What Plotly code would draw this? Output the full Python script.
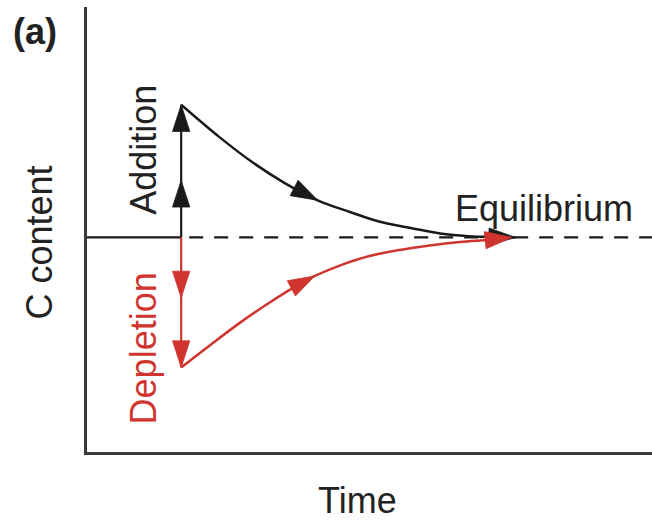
import plotly.graph_objects as go

# ---- data (arbitrary units) ----
# perturbation time and equilibrium level
t_perturb = 1.0
c_equil = 0.0

# Addition pathway (black): C content relaxing back to equilibrium
t_add = [1.0, 1.4, 1.75, 2.1, 2.45, 2.8, 3.1, 3.45, 3.75, 4.05, 4.4, 4.55]
c_add = [1.0, 0.76, 0.57, 0.41, 0.28, 0.19, 0.12, 0.07, 0.03, 0.01, 0.003, 0.0]
add_head_idx = [4, 11]

# Depletion pathway (red)
t_dep = [1.0, 1.31, 1.63, 1.94, 2.26, 2.42, 2.69, 3.0, 3.32, 3.64, 3.96, 4.28, 4.51]
c_dep = [-0.98, -0.81, -0.64, -0.49, -0.35, -0.29, -0.21, -0.14, -0.094, -0.06, -0.034, -0.017, 0.0]
dep_head_idx = [5, 12]

# vertical perturbation arrows at t_perturb
c_add_jump = [0.0, 0.43, 1.0]
c_dep_jump = [0.0, -0.455, -0.98]
jump_head_idx = [1, 2]

# equilibrium reference line
t_solid = [0.0, 1.0]
t_dashed = [1.085, 6.0]

x_range = [0, 6]
y_range = [-1.617, 1.737]

BLACK = "#1a1a1a"
RED = "#d0342f"
AXIS = "#3a3a3a"
TEXT = "#222222"
FONT = "Liberation Sans, Arial, Helvetica, sans-serif"
FS = 36
HEAD = 28


def head_sizes(n, idx):
    return [HEAD if i in idx else 0 for i in range(n)]


fig = go.Figure()

# equilibrium line
fig.add_trace(go.Scatter(x=t_solid, y=[c_equil] * 2, mode="lines",
                         line=dict(color=BLACK, width=2.2), hoverinfo="skip"))
fig.add_trace(go.Scatter(x=t_dashed, y=[c_equil] * 2, mode="lines",
                         line=dict(color=BLACK, width=2.2, dash="14px,11px"),
                         hoverinfo="skip"))

# vertical jumps
fig.add_trace(go.Scatter(x=[t_perturb] * 3, y=c_add_jump, mode="lines",
                         line=dict(color=BLACK, width=2.2), hoverinfo="skip"))
fig.add_trace(go.Scatter(x=[t_perturb] * 3, y=c_dep_jump, mode="lines",
                         line=dict(color=RED, width=2.2), hoverinfo="skip"))

# relaxation curves
fig.add_trace(go.Scatter(x=t_add, y=c_add, mode="lines",
                         line=dict(color=BLACK, width=2.5, shape="spline", smoothing=1.0),
                         hoverinfo="skip"))
fig.add_trace(go.Scatter(x=t_dep, y=c_dep, mode="lines",
                         line=dict(color=RED, width=2.5, shape="spline", smoothing=1.0),
                         hoverinfo="skip"))

# arrow heads
for xs, ys, idx, col in [
    ([t_perturb] * 3, c_add_jump, jump_head_idx, BLACK),
    ([t_perturb] * 3, c_dep_jump, jump_head_idx, RED),
    (t_add, c_add, add_head_idx, BLACK),
    (t_dep, c_dep, dep_head_idx, RED),
]:
    fig.add_trace(go.Scatter(
        x=xs, y=ys, mode="markers",
        marker=dict(symbol="arrow", size=head_sizes(len(xs), idx),
                    angleref="previous", color=col, opacity=1,
                    line=dict(width=0.8, color=col)),
        hoverinfo="skip"))

annotations = [
    dict(text="Addition", x=0.605, y=0.66, xref="x", yref="y", textangle=-90,
         font=dict(color=TEXT, size=FS, family=FONT)),
    dict(text="Depletion", x=0.60, y=-0.84, xref="x", yref="y", textangle=-90,
         font=dict(color=RED, size=FS, family=FONT)),
    dict(text="Equilibrium", x=4.853, y=0.219, xref="x", yref="y",
         font=dict(color=TEXT, size=FS, family=FONT)),
    dict(text="C content", x=-0.0832, y=0.4708, xref="paper", yref="paper",
         textangle=-90, font=dict(color=TEXT, size=FS, family=FONT)),
    dict(text="Time", x=0.4779, y=-0.1079, xref="paper", yref="paper",
         font=dict(color=TEXT, size=FS, family=FONT)),
    dict(text="<b>(a)</b>", x=-0.0929, y=0.946, xref="paper", yref="paper",
         font=dict(color=TEXT, size=FS, family=FONT)),
]
for a in annotations:
    a.update(showarrow=False, xanchor="center", yanchor="middle")

fig.update_layout(
    width=652, height=520,
    margin=dict(l=87, r=0, t=7, b=68),
    paper_bgcolor="white", plot_bgcolor="white",
    showlegend=False,
    annotations=annotations,
    xaxis=dict(range=x_range, showline=True, linewidth=2.5, linecolor=AXIS,
               showticklabels=False, ticks="", showgrid=False, zeroline=False,
               fixedrange=True),
    yaxis=dict(range=y_range, showline=True, linewidth=2.5, linecolor=AXIS,
               showticklabels=False, ticks="", showgrid=False, zeroline=False,
               fixedrange=True),
)

fig.write_html("out.html", config={"displayModeBar": False})
